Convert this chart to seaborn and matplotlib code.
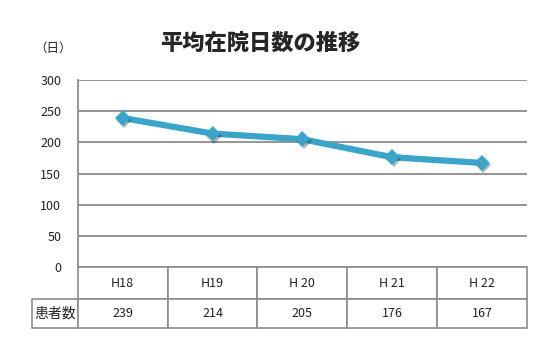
import matplotlib as mpl
import matplotlib.patheffects as pe
import numpy as np
import pandas as pd

import matplotlib.pyplot as plt
import seaborn as sns

years = ['H18', 'H19', 'H 20', 'H 21', 'H 22']
days = [239, 214, 205, 176, 167]
row_label = '患者数'
title = '平均在院日数の推移'
unit = '（日）'

sns.set_style('white')
plt.rcParams['font.family'] = ['Noto Sans CJK JP', 'DejaVu Sans']

df = pd.DataFrame({'year': years, 'days': days})

fig = plt.figure(figsize=(5.6, 3.6), dpi=100)
ax_rect = [0.139, 0.258, 0.802, 0.52]
ax = fig.add_axes(ax_rect)

line_color = '#3aa5c8'
sns.lineplot(data=df, x='year', y='days', ax=ax, color=line_color, linewidth=4.5,
             marker='D', markersize=8, markeredgewidth=0, sort=False,
             path_effects=[pe.SimplePatchShadow(offset=(1, -1.5), alpha=0.35), pe.Normal()])

ax.set_ylim(0, 300)
ax.set_xlim(-0.5, len(years) - 0.5)
ax.set_yticks(np.arange(0, 301, 50))
ax.yaxis.grid(True, color='#8c8c8c', linewidth=1.3)
ax.set_axisbelow(True)
ax.tick_params(axis='y', length=0, labelsize=9, pad=12, colors='#222222')
ax.tick_params(axis='x', length=0, labelbottom=False)
ax.set_xlabel('')
ax.set_ylabel('')
for side in ['top', 'right', 'bottom']:
    ax.spines[side].set_visible(False)
ax.spines['left'].set_color('#8c8c8c')
ax.spines['left'].set_linewidth(1.3)

# ----- data table under the plot (label column built as an ordinary column) -----
axw_px = ax_rect[2] * 560
axh_px = ax_rect[3] * 360
label_w = 46 / axw_px
col_w = 1 / len(years)
head_h = 32 / axh_px
row_h = 29 / axh_px
tbl = ax.table(cellText=[[row_label] + [str(v) for v in days]],
               colLabels=[''] + years,
               colWidths=[label_w] + [col_w] * len(years),
               cellLoc='center',
               bbox=[-label_w, -(head_h + row_h), 1 + label_w, head_h + row_h])
tbl.auto_set_font_size(False)
for (r, c), cell in tbl.get_celld().items():
    cell.set_edgecolor('#8c8c8c')
    cell.set_linewidth(1.2)
    cell.set_fontsize(9)
    cell.get_text().set_color('#222222')
    cell.set_height(head_h if r == 0 else row_h)
    if c == 0:
        cell.get_text().set_fontsize(10)
        if r == 0:
            cell.visible_edges = ''

fig.text(0.464, 0.88, title, ha='center', va='center', fontsize=16, fontweight='heavy')
fig.text(0.095, 0.867, unit, ha='center', va='center', fontsize=9, color='#222222')

fig.savefig('out.png', dpi=100)
